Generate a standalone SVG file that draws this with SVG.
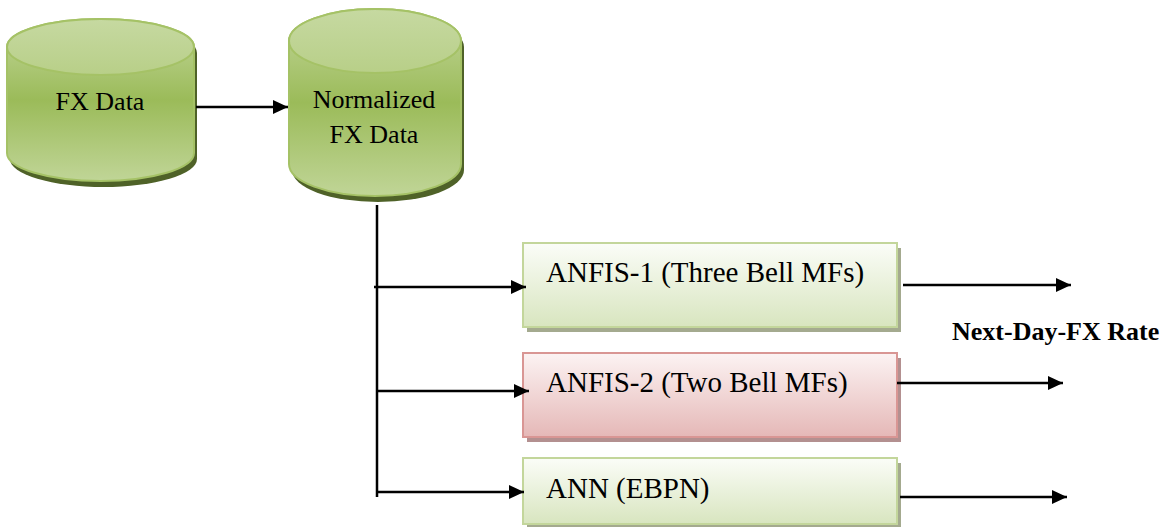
<svg xmlns="http://www.w3.org/2000/svg" width="1172" height="527" viewBox="0 0 1172 527">
<style>
  .lbl{font-family:"Liberation Serif","Times New Roman",serif;fill:#000}
  .cyl{font-size:26px}
  .box{font-size:29px}
  .out{font-size:26px;font-weight:bold}
  .conn{stroke:#000;stroke-width:2.5;fill:none}
  .cylbody{fill:url(#cylGrad);stroke:#a5c266;stroke-width:2}
  .cylcap{fill:url(#capGrad);stroke:#a5c266;stroke-width:2}
  .cylshadow{fill:#4f6228}
  .gbox{fill:url(#greenBox);stroke:#c3d69b;stroke-width:2}
  .pbox{fill:url(#pinkBox);stroke:#d99694;stroke-width:2}
  .gshadow{fill:#a4aa8f}
  .pshadow{fill:#b39090}
</style>
<defs>
  <linearGradient id="cylGrad" x1="0" y1="0" x2="0" y2="1">
    <stop offset="0" stop-color="#c3d79c"/>
    <stop offset="0.5" stop-color="#9bbb59"/>
    <stop offset="1" stop-color="#c0d597"/>
  </linearGradient>
  <linearGradient id="capGrad" x1="0" y1="0" x2="0" y2="1">
    <stop offset="0" stop-color="#c6d9a1"/>
    <stop offset="1" stop-color="#b8cf88"/>
  </linearGradient>
  <linearGradient id="greenBox" x1="0" y1="0" x2="0" y2="1">
    <stop offset="0" stop-color="#fbfdf8"/>
    <stop offset="1" stop-color="#d8e5bf"/>
  </linearGradient>
  <linearGradient id="pinkBox" x1="0" y1="0" x2="0" y2="1">
    <stop offset="0" stop-color="#fcf3f3"/>
    <stop offset="1" stop-color="#e5b8b7"/>
  </linearGradient>
  <marker id="arrow" markerUnits="userSpaceOnUse" markerWidth="16" markerHeight="14" refX="15" refY="7" orient="auto">
    <path d="M0,0 L15,7 L0,14 Z" fill="#000"/>
  </marker>
</defs>

<g id="node-fxdata">
  <path class="cylshadow" d="M10,53 A93.5,28 0 0 1 197,53 L197,159 A93.5,28 0 0 1 10,159 Z"/>
  <path class="cylbody" d="M7,47 A93.5,28 0 0 1 194,47 L194,153 A93.5,28 0 0 1 7,153 Z"/>
  <ellipse class="cylcap" cx="100.5" cy="47" rx="93.5" ry="28"/>
  <text class="lbl cyl" x="100" y="110" text-anchor="middle">FX Data</text>
</g>

<g id="node-normalized">
  <path class="cylshadow" d="M292,47 A86,32 0 0 1 464,47 L464,170 A86,32 0 0 1 292,170 Z"/>
  <path class="cylbody" d="M289,41 A86,32 0 0 1 461,41 L461,164 A86,32 0 0 1 289,164 Z"/>
  <ellipse class="cylcap" cx="375" cy="41" rx="86" ry="32"/>
  <text class="lbl cyl" x="374" y="108" text-anchor="middle">Normalized</text>
  <text class="lbl cyl" x="374" y="143" text-anchor="middle">FX Data</text>
</g>

<g id="node-anfis1">
  <rect class="gshadow" x="527" y="248" width="374" height="84"/>
  <rect class="gbox" x="523" y="243" width="374" height="84"/>
  <text class="lbl box" x="546" y="282">ANFIS-1 (Three Bell MFs)</text>
</g>

<g id="node-anfis2">
  <rect class="pshadow" x="527" y="358" width="374" height="84"/>
  <rect class="pbox" x="523" y="353" width="374" height="84"/>
  <text class="lbl box" x="546" y="392">ANFIS-2 (Two Bell MFs)</text>
</g>

<g id="node-ann">
  <rect class="gshadow" x="527" y="463" width="374" height="66"/>
  <rect class="gbox" x="523" y="458" width="374" height="66"/>
  <text class="lbl box" x="546" y="498">ANN (EBPN)</text>
</g>

<g id="label-output">
  <text class="lbl out" x="952" y="340">Next-Day-FX Rate</text>
</g>

<g id="connectors">
  <path class="conn" d="M196,107 H288" marker-end="url(#arrow)"/>
  <path class="conn" d="M377,205 V497"/>
  <path class="conn" d="M374,287 H526" marker-end="url(#arrow)"/>
  <path class="conn" d="M377,391 H529" marker-end="url(#arrow)"/>
  <path class="conn" d="M377,492 H524" marker-end="url(#arrow)"/>
  <path class="conn" d="M903,285 H1071" marker-end="url(#arrow)"/>
  <path class="conn" d="M897,383 H1063" marker-end="url(#arrow)"/>
  <path class="conn" d="M900,497 H1067" marker-end="url(#arrow)"/>
</g>
</svg>
